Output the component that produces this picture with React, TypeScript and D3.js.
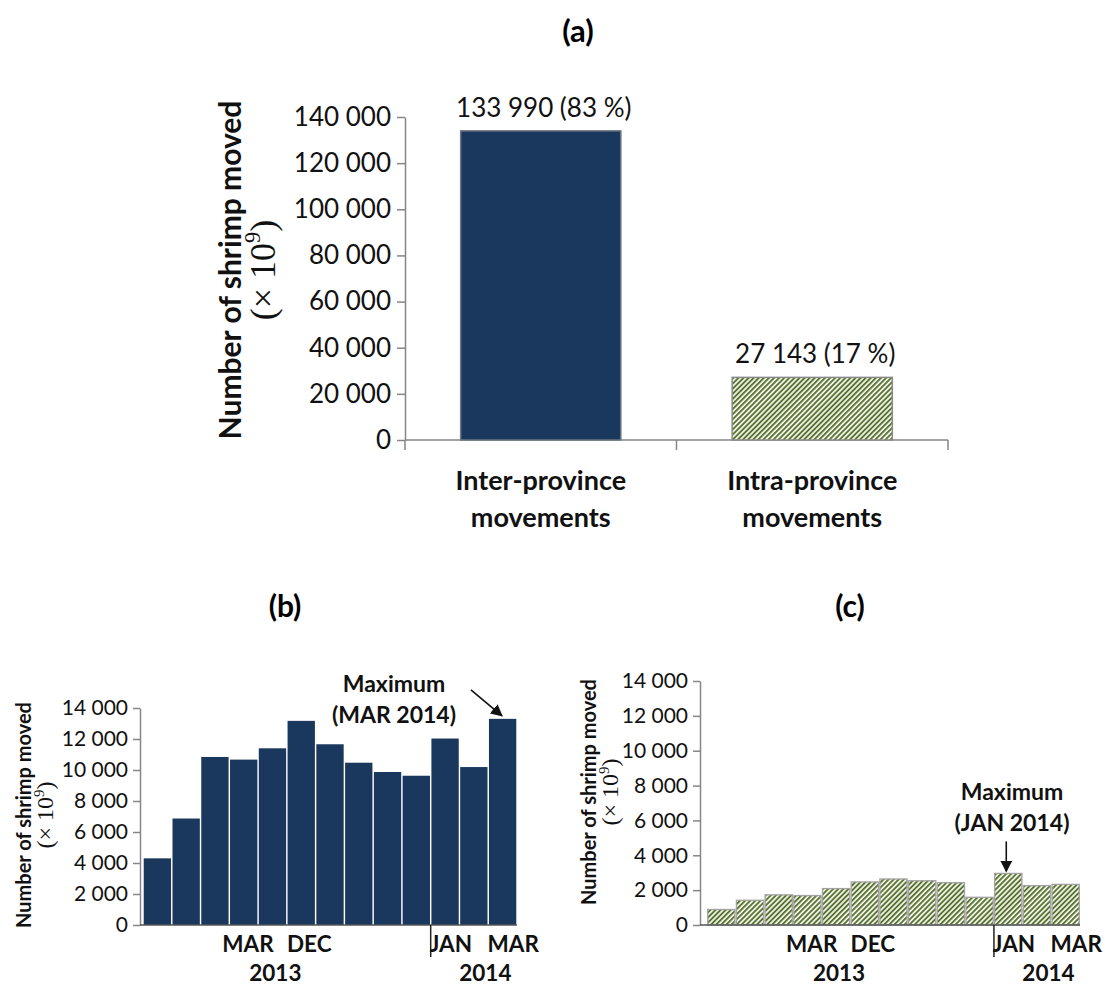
import React, { useEffect, useRef } from 'react';
import * as d3 from 'd3';

const W = 1105;
const H = 985;
const FONT = "Lato, 'Open Sans', sans-serif";
const MATH_FONT = "'Liberation Serif', 'DejaVu Serif', serif";
const NAVY = '#1a375e';
const OLIVE = '#55702c';
const AXIS = '#868686';

// (a) totals
const movementTypes = ['Inter-province movements', 'Intra-province movements'];
const movementTotals = [133990, 27143];
const movementShares = [83, 17];

// (b), (c) monthly, MAR 2013 .. MAR 2014
const months = [
    'MAR 2013', 'APR 2013', 'MAY 2013', 'JUN 2013', 'JUL 2013', 'AUG 2013', 'SEP 2013',
    'OCT 2013', 'NOV 2013', 'DEC 2013', 'JAN 2014', 'FEB 2014', 'MAR 2014'
];
const interMonthly = [4300, 6870, 10840, 10670, 11400, 13170, 11660, 10470, 9870, 9630, 12030, 10190, 13300];
const intraMonthly = [890, 1420, 1730, 1690, 2090, 2470, 2640, 2540, 2430, 1590, 2960, 2260, 2330];

// category-axis labels as drawn in the figure (position in month-index units)
const monthTicks = ['MAR', 'DEC', 'JAN', 'MAR'];
const monthTickAt = [3.15, 5.28, 10.2, 12.37];
const yearTicks = ['2013', '2014'];
const yearTickAt = [4.1, 11.4];

const fmt = (v) => d3.format(',')(v).replace(/,/g, ' ');

function yTitle(g, x, y, size) {
    const t = g.append('text')
        .attr('transform', `translate(${x},${y}) rotate(-90)`)
        .attr('text-anchor', 'middle')
        .attr('font-family', FONT)
        .attr('font-weight', 'bold')
        .attr('font-size', size)
        .attr('fill', '#111');
    t.append('tspan').attr('x', 0).attr('dy', 0).text('Number of shrimp moved');
    // second line set in a math-like serif, as in the figure
    const s2 = size * 1.2;
    const l2 = t.append('tspan').attr('x', 0).attr('dy', size * 1.12)
        .attr('font-family', MATH_FONT).attr('font-weight', 'normal').attr('font-size', s2);
    l2.append('tspan').text('(× 10');
    l2.append('tspan').attr('font-size', s2 * 0.62).attr('dy', -s2 * 0.4).text('9');
    l2.append('tspan').attr('dy', s2 * 0.4).text(')');
}

function drawTotals(g) {
    const yA = d3.scaleLinear().domain([0, 140000]).range([440, 117]);
    const xA = d3.scaleBand().domain(movementTypes).range([405, 948]).paddingInner(0.41).paddingOuter(0.205);

    g.append('text')
        .attr('x', 578).attr('y', 42)
        .attr('text-anchor', 'middle')
        .attr('font-family', FONT).attr('font-weight', 'bold').attr('font-size', 31)
        .text('(a)');

    const yAxis = g.append('g')
        .attr('transform', 'translate(405,0)')
        .call(d3.axisLeft(yA).tickValues(d3.range(0, 140001, 20000)).tickSize(8).tickSizeOuter(0).tickPadding(6).tickFormat(fmt));
    yAxis.selectAll('path, line').attr('stroke', AXIS).attr('stroke-width', 1.5);
    yAxis.selectAll('text').attr('font-family', FONT).attr('font-size', 26).attr('fill', '#111');

    g.append('line')
        .attr('x1', 405).attr('x2', 948).attr('y1', yA(0)).attr('y2', yA(0))
        .attr('stroke', AXIS).attr('stroke-width', 1.5);
    d3.range(movementTypes.length + 1).forEach(i => {
        const x = xA.range()[0] + i * xA.step();
        g.append('line')
            .attr('x1', x).attr('x2', x).attr('y1', yA(0)).attr('y2', yA(0) + 10)
            .attr('stroke', AXIS).attr('stroke-width', 1.5);
    });

    g.selectAll('.bar-a')
        .data(movementTypes)
        .enter().append('rect')
        .attr('class', 'bar-a')
        .attr('x', d => xA(d))
        .attr('width', xA.bandwidth())
        .attr('y', (d, i) => yA(movementTotals[i]))
        .attr('height', (d, i) => yA(0) - yA(movementTotals[i]))
        .attr('fill', (d, i) => i === 0 ? NAVY : 'url(#hatch)')
        .attr('stroke', (d, i) => i === 0 ? '#6f7783' : '#8a8a8a')
        .attr('stroke-width', 1.5);

    g.selectAll('.val-a')
        .data(movementTypes)
        .enter().append('text')
        .attr('class', 'val-a')
        .attr('x', d => xA(d) + xA.bandwidth() / 2 + 3)
        .attr('y', (d, i) => yA(movementTotals[i]) - 14)
        .attr('text-anchor', 'middle')
        .attr('font-family', FONT).attr('font-size', 26).attr('fill', '#111')
        .text((d, i) => `${fmt(movementTotals[i])} (${movementShares[i]} %)`);

    movementTypes.forEach(d => {
        const words = d.split(' ');
        const t = g.append('text')
            .attr('x', xA(d) + xA.bandwidth() / 2)
            .attr('y', 490)
            .attr('text-anchor', 'middle')
            .attr('font-family', FONT).attr('font-weight', 'bold').attr('font-size', 27).attr('fill', '#111');
        words.forEach((w, i) => {
            t.append('tspan').attr('x', xA(d) + xA.bandwidth() / 2).attr('dy', i === 0 ? 0 : 37).text(w);
        });
    });

    yTitle(g, 241, 270, 30);
}

function drawMonthly(g, opt) {
    const { values, fill, stroke, axisX, x0, x1, yTop, yBottom, title, titleX, maxNote } = opt;
    const y = d3.scaleLinear().domain([0, 14000]).range([yBottom, yTop]);
    const x = d3.scaleBand().domain(months).range([x0, x1]).paddingInner(0.05).paddingOuter(0.025);
    const idx = d3.scaleLinear().domain([0, months.length - 1]).range([x(months[0]) + x.bandwidth() / 2, x(months[months.length - 1]) + x.bandwidth() / 2]);

    g.append('text')
        .attr('x', titleX).attr('y', 617)
        .attr('text-anchor', 'middle')
        .attr('font-family', FONT).attr('font-weight', 'bold').attr('font-size', 30)
        .text(title);

    const yAxis = g.append('g')
        .attr('transform', `translate(${axisX},0)`)
        .call(d3.axisLeft(y).tickValues(d3.range(0, 14001, 2000)).tickSize(7).tickSizeOuter(0).tickPadding(5).tickFormat(fmt));
    yAxis.selectAll('path, line').attr('stroke', AXIS).attr('stroke-width', 1.5);
    yAxis.selectAll('text').attr('font-family', FONT).attr('font-size', 21).attr('fill', '#111');

    g.selectAll('.bar')
        .data(months)
        .enter().append('rect')
        .attr('x', d => x(d))
        .attr('width', x.bandwidth())
        .attr('y', (d, i) => y(values[i]))
        .attr('height', (d, i) => y(0) - y(values[i]))
        .attr('fill', fill)
        .attr('stroke', stroke)
        .attr('stroke-width', stroke === 'none' ? 0 : 1.3);

    g.append('line')
        .attr('x1', axisX).attr('x2', x1).attr('y1', y(0)).attr('y2', y(0))
        .attr('stroke', '#555').attr('stroke-width', 1.5);

    // year break between DEC 2013 and JAN 2014
    const br = x(months[10]) - (x.step() - x.bandwidth()) / 2;
    g.append('line')
        .attr('x1', br).attr('x2', br).attr('y1', y(0)).attr('y2', y(0) + 32)
        .attr('stroke', '#222').attr('stroke-width', 1.5);

    monthTicks.forEach((m, i) => {
        g.append('text')
            .attr('x', idx(monthTickAt[i])).attr('y', 952)
            .attr('text-anchor', 'middle')
            .attr('font-family', FONT).attr('font-weight', 'bold').attr('font-size', 22.5).attr('fill', '#111')
            .text(m);
    });
    yearTicks.forEach((yr, i) => {
        g.append('text')
            .attr('x', idx(yearTickAt[i])).attr('y', 981)
            .attr('text-anchor', 'middle')
            .attr('font-family', FONT).attr('font-weight', 'bold').attr('font-size', 22.5).attr('fill', '#111')
            .text(yr);
    });

    // maximum note
    const mi = values.indexOf(d3.max(values));
    const t = g.append('text')
        .attr('text-anchor', 'middle')
        .attr('font-family', FONT).attr('font-weight', 'bold').attr('font-size', 23).attr('fill', '#111');
    t.append('tspan').attr('x', maxNote.x).attr('y', maxNote.y).text('Maximum');
    t.append('tspan').attr('x', maxNote.x).attr('y', maxNote.y + 31).text(`(${months[mi]})`);
    const ex = maxNote.arrow === 'diag' ? x(months[mi]) + 13 : x(months[mi]) + x.bandwidth() / 2 - 2;
    const ey = maxNote.arrow === 'diag' ? y(values[mi]) - 3 : y(values[mi]) - 2;
    const sx = maxNote.arrow === 'diag' ? ex - 31 : ex;
    const sy = maxNote.arrow === 'diag' ? ey - 26 : ey - 30;
    g.append('line')
        .attr('x1', sx).attr('y1', sy).attr('x2', ex).attr('y2', ey)
        .attr('stroke', '#111').attr('stroke-width', 1.6)
        .attr('marker-end', 'url(#arrow)');

    yTitle(g, opt.yTitleX, opt.yTitleY, 20);
}

export default function App() {
    const svgRef = useRef(null);

    useEffect(() => {
        const svg = d3.select(svgRef.current);
        svg.selectAll('*').remove();
        const defs = svg.append('defs');
        const pat = defs.append('pattern')
            .attr('id', 'hatch')
            .attr('patternUnits', 'userSpaceOnUse')
            .attr('width', 3.6).attr('height', 3.6)
            .attr('patternTransform', 'rotate(45)');
        pat.append('rect').attr('width', 3.6).attr('height', 3.6).attr('fill', '#fbfcf6');
        pat.append('line').attr('x1', 1).attr('x2', 1).attr('y1', 0).attr('y2', 3.6)
            .attr('stroke', OLIVE).attr('stroke-width', 1.9);
        defs.append('marker')
            .attr('id', 'arrow')
            .attr('viewBox', '0 0 10 10')
            .attr('refX', 9).attr('refY', 5)
            .attr('markerWidth', 12).attr('markerHeight', 12)
            .attr('markerUnits', 'userSpaceOnUse')
            .attr('orient', 'auto')
            .append('path').attr('d', 'M0,0 L10,5 L0,10 z').attr('fill', '#111');

        svg.append('rect').attr('width', W).attr('height', H).attr('fill', '#fff');

        drawTotals(svg.append('g'));
        drawMonthly(svg.append('g'), {
            values: interMonthly, fill: NAVY, stroke: 'none',
            axisX: 140, x0: 143, x1: 517, yTop: 708, yBottom: 925,
            title: '(b)', titleX: 285,
            maxNote: { x: 394, y: 692, arrow: 'diag' },
            yTitleX: 31, yTitleY: 815
        });
        drawMonthly(svg.append('g'), {
            values: intraMonthly, fill: 'url(#hatch)', stroke: '#a3a3a3',
            axisX: 700, x0: 707, x1: 1080, yTop: 681, yBottom: 925,
            title: '(c)', titleX: 850,
            maxNote: { x: 1012, y: 800, arrow: 'down' },
            yTitleX: 596, yTitleY: 792
        });
    }, []);

    return (
        <div style={{ position: 'absolute', left: 0, top: 0 }}>
            <svg ref={svgRef} width={W} height={H} style={{ display: 'block' }} />
        </div>
    );
}
